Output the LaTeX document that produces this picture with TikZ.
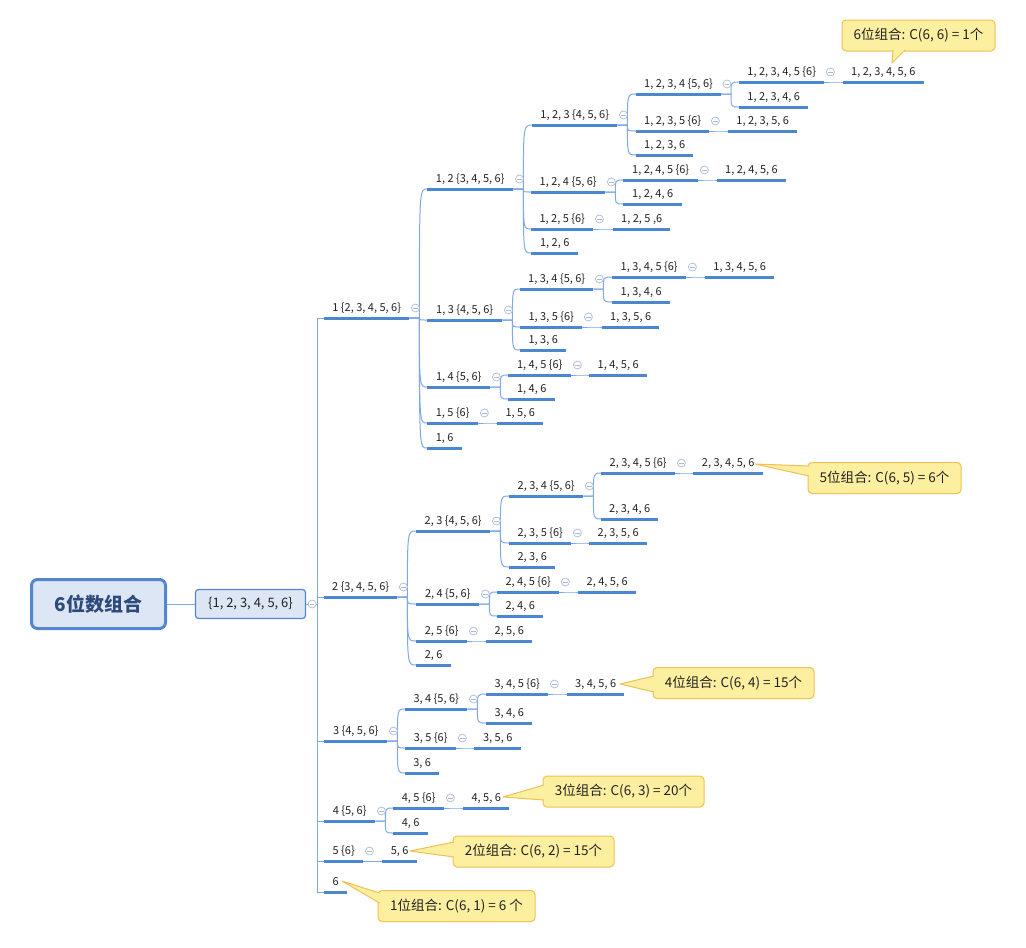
\documentclass[tikz,border=0pt]{standalone}
\usepackage{fontspec}
\setmainfont{Noto Sans CJK SC}
\usepackage{xcolor}
\usepackage{tikz}
\definecolor{lineblue}{RGB}{74, 134, 210}
\definecolor{branchblue}{RGB}{128, 168, 228}
\definecolor{foldgray}{RGB}{172, 186, 214}
\definecolor{rootfill}{RGB}{220, 230, 244}
\definecolor{rootline}{RGB}{84, 134, 205}
\definecolor{roottext}{RGB}{44, 74, 124}
\definecolor{textdark}{RGB}{34, 34, 34}
\definecolor{callfill}{RGB}{252, 239, 160}
\definecolor{callline}{RGB}{240, 192, 82}

\begin{document}
\begin{tikzpicture}[x=1pt, y=-1pt,
    rootbox/.style={
      rectangle, rounded corners=6pt, draw=rootline, fill=rootfill, line width=3pt,
      minimum width=134pt, minimum height=49pt, inner sep=0pt,
      font=\fontsize{19}{22}\selectfont\bfseries, text=roottext
    },
    setbox/.style={
      rectangle, rounded corners=3pt, draw=rootline, fill=rootfill, line width=1.2pt,
      minimum width=110pt, minimum height=29pt, inner sep=0pt,
      font=\fontsize{13}{15}\selectfont, text=textdark
    },
    topic/.style={
      anchor=south west, inner xsep=8pt, inner ysep=6.5pt, text depth=0pt,
      font=\fontsize{11}{13}\selectfont, text=textdark,
      append after command={(\tikzlastnode.south west) edge[uline] (\tikzlastnode.south east)}
    },
    uline/.style={draw=lineblue, line width=3pt},
    branch/.style={draw=branchblue, line width=1pt},
    fold/.style={
      circle, draw=foldgray, fill=white, line width=0.7pt, minimum size=8pt, inner sep=0pt,
      path picture={\draw[foldgray, line width=0.7pt]
        ([xshift=-2.2pt]path picture bounding box.center) -- ([xshift=2.2pt]path picture bounding box.center);}
    },
    callout/.style={
      rectangle, rounded corners=4pt, draw=callline, fill=callfill, line width=1pt,
      minimum height=31pt, inner sep=0pt,
      font=\fontsize{13.5}{16}\selectfont, text=textdark
    },
    pointer/.style={draw=callline, fill=callfill, line width=1pt, line join=round}
]
  \useasboundingbox (0,0) rectangle (1026,948);

  \node[rootbox] (root) at (98.5,604) {6位数组合};
  \node[setbox]  (set)  at (250.5,604) {\{1, 2, 3, 4, 5, 6\}};
  \draw[branch] (root) -- (set);

  % first level
  \node[topic, minimum width=85pt] (n1) at (324,318) {1 \{2, 3, 4, 5, 6\}};
  \node[topic, minimum width=73pt] (n2) at (324,597) {2 \{3, 4, 5, 6\}};
  \node[topic, minimum width=63pt] (n3) at (324,741) {3 \{4, 5, 6\}};
  \node[topic, minimum width=51pt] (n4) at (324,821) {4 \{5, 6\}};
  \node[topic, minimum width=39pt] (n5) at (324,861) {5 \{6\}};
  \node[topic, minimum width=23pt] (n6) at (324,892) {6};

  % 1 ...
  \node[topic, minimum width=86pt] (n12) at (427,189) {1, 2 \{3, 4, 5, 6\}};
  \node[topic, minimum width=75pt] (n13) at (427,320) {1, 3 \{4, 5, 6\}};
  \node[topic, minimum width=63pt] (n14) at (427,387) {1, 4 \{5, 6\}};
  \node[topic, minimum width=51pt] (n15) at (427,423) {1, 5 \{6\}};
  \node[topic, minimum width=35pt] (n16) at (427,448) {1, 6};

  \node[topic, minimum width=85pt] (n123) at (532,125) {1, 2, 3 \{4, 5, 6\}};
  \node[topic, minimum width=74pt] (n124) at (531,192) {1, 2, 4 \{5, 6\}};
  \node[topic, minimum width=62pt] (n125) at (531,229) {1, 2, 5 \{6\}};
  \node[topic, minimum width=47pt] (n126) at (531,253) {1, 2, 6};

  \node[topic, minimum width=84pt] (n1234) at (636,94) {1, 2, 3, 4 \{5, 6\}};
  \node[topic, minimum width=73pt] (n1235) at (636,131) {1, 2, 3, 5 \{6\}};
  \node[topic, minimum width=57pt] (n1236) at (636,155) {1, 2, 3, 6};
  \node[topic, minimum width=85pt] (n12345) at (739,82) {1, 2, 3, 4, 5 \{6\}};
  \node[topic, minimum width=69pt] (n12346) at (739,107) {1, 2, 3, 4, 6};
  \node[topic, minimum width=80pt] (n123456) at (843,82) {1, 2, 3, 4, 5, 6};
  \node[topic, minimum width=69pt] (n12356) at (728,131) {1, 2, 3, 5, 6};

  \node[topic, minimum width=75pt] (n1245) at (623,180) {1, 2, 4, 5 \{6\}};
  \node[topic, minimum width=59pt] (n1246) at (623,204) {1, 2, 4, 6};
  \node[topic, minimum width=68pt] (n12456) at (717,180) {1, 2, 4, 5, 6};
  \node[topic, minimum width=57pt] (n1256) at (613,229) {1, 2, 5 ,6};

  \node[topic, minimum width=73pt] (n134) at (520,289) {1, 3, 4 \{5, 6\}};
  \node[topic, minimum width=62pt] (n135) at (520,327) {1, 3, 5 \{6\}};
  \node[topic, minimum width=46pt] (n136) at (520,350) {1, 3, 6};
  \node[topic, minimum width=74pt] (n1345) at (612,277) {1, 3, 4, 5 \{6\}};
  \node[topic, minimum width=58pt] (n1346) at (612,302) {1, 3, 4, 6};
  \node[topic, minimum width=69pt] (n13456) at (705,277) {1, 3, 4, 5, 6};
  \node[topic, minimum width=56pt] (n1356) at (602,327) {1, 3, 5, 6};

  \node[topic, minimum width=63pt] (n145) at (508,375) {1, 4, 5 \{6\}};
  \node[topic, minimum width=47pt] (n146) at (508,399) {1, 4, 6};
  \node[topic, minimum width=58pt] (n1456) at (589,375) {1, 4, 5, 6};
  \node[topic, minimum width=46pt] (n156) at (497,423) {1, 5, 6};

  % 2 ...
  \node[topic, minimum width=74pt] (n23) at (416,531) {2, 3 \{4, 5, 6\}};
  \node[topic, minimum width=63pt] (n24) at (416,604) {2, 4 \{5, 6\}};
  \node[topic, minimum width=51pt] (n25) at (416,641) {2, 5 \{6\}};
  \node[topic, minimum width=35pt] (n26) at (416,665) {2, 6};
  \node[topic, minimum width=74pt] (n234) at (509,496) {2, 3, 4 \{5, 6\}};
  \node[topic, minimum width=62pt] (n235) at (509,543) {2, 3, 5 \{6\}};
  \node[topic, minimum width=46pt] (n236) at (509,567) {2, 3, 6};
  \node[topic, minimum width=74pt] (n2345) at (601,473) {2, 3, 4, 5 \{6\}};
  \node[topic, minimum width=57pt] (n2346) at (601,519) {2, 3, 4, 6};
  \node[topic, minimum width=70pt] (n23456) at (693,473) {2, 3, 4, 5, 6};
  \node[topic, minimum width=58pt] (n2356) at (589,543) {2, 3, 5, 6};
  \node[topic, minimum width=62pt] (n245) at (497,592) {2, 4, 5 \{6\}};
  \node[topic, minimum width=46pt] (n246) at (497,616) {2, 4, 6};
  \node[topic, minimum width=58pt] (n2456) at (578,592) {2, 4, 5, 6};
  \node[topic, minimum width=46pt] (n256) at (486,641) {2, 5, 6};

  % 3 ...
  \node[topic, minimum width=62pt] (n34) at (405,709) {3, 4 \{5, 6\}};
  \node[topic, minimum width=51pt] (n35) at (405,748) {3, 5 \{6\}};
  \node[topic, minimum width=34pt] (n36) at (405,773) {3, 6};
  \node[topic, minimum width=62pt] (n345) at (486,694) {3, 4, 5 \{6\}};
  \node[topic, minimum width=46pt] (n346) at (486,723) {3, 4, 6};
  \node[topic, minimum width=57pt] (n3456) at (567,694) {3, 4, 5, 6};
  \node[topic, minimum width=47pt] (n356) at (474,748) {3, 5, 6};

  % 4, 5 ...
  \node[topic, minimum width=51pt] (n45) at (393,808) {4, 5 \{6\}};
  \node[topic, minimum width=35pt] (n46) at (393,833) {4, 6};
  \node[topic, minimum width=46pt] (n456) at (463,808) {4, 5, 6};
  \node[topic, minimum width=35pt] (n56) at (382,861) {5, 6};

  % Trunk
  \foreach \c in {n1, n2, n3, n4, n5, n6}
    \draw[branch] (set.east) -- ++(11,0) |- (\c.south west);
  \node[fold] (fset) at ([xshift=6pt]set.east) {};

  % Branches
  \foreach \p/\c in {n1/n12, n1/n13, n1/n14, n1/n15, n1/n16,
      n12/n123, n12/n124, n12/n125, n12/n126,
      n123/n1234, n123/n1235, n123/n1236,
      n1234/n12345, n1234/n12346, n12345/n123456, n1235/n12356,
      n124/n1245, n124/n1246, n1245/n12456, n125/n1256,
      n13/n134, n13/n135, n13/n136,
      n134/n1345, n134/n1346, n1345/n13456, n135/n1356,
      n14/n145, n14/n146, n145/n1456, n15/n156,
      n2/n23, n2/n24, n2/n25, n2/n26,
      n23/n234, n23/n235, n23/n236,
      n234/n2345, n234/n2346, n2345/n23456, n235/n2356,
      n24/n245, n24/n246, n245/n2456, n25/n256,
      n3/n34, n3/n35, n3/n36,
      n34/n345, n34/n346, n345/n3456, n35/n356,
      n4/n45, n4/n46, n45/n456, n5/n56} {
    \path ([xshift=10pt]\p.south east) coordinate (bp);
    \draw[branch] (\p.south east) -- (bp) .. controls (bp |- \c.south west) .. (\c.south west);
  }

  % Fold marks
  \foreach \p in {n1, n12, n123, n1234, n12345, n1235, n124, n1245, n125,
      n13, n134, n1345, n135, n14, n145, n15,
      n2, n23, n234, n2345, n235, n24, n245, n25,
      n3, n34, n345, n35, n4, n45, n5}
    \node[fold] (f\p) at ([xshift=6pt, yshift=10pt]\p.south east) {};

  % Callouts
  \node[callout, minimum width=153pt] (c6) at (918.5,35.5) {6位组合: C(6, 6) = 1个};
  \node[callout, minimum width=153pt] (c5) at (884.5,478) {5位组合: C(6, 5) = 6个};
  \node[callout, minimum width=161pt] (c4) at (733.5,683) {4位组合: C(6, 4) = 15个};
  \node[callout, minimum width=161pt] (c3) at (623.5,791.5) {3位组合: C(6, 3) = 20个};
  \node[callout, minimum width=161pt] (c2) at (533.5,851.5) {2位组合: C(6, 2) = 15个};
  \node[callout, minimum width=157pt] (c1) at (456.5,906) {1位组合: C(6, 1) = 6 个};

  \coordinate (t6) at (892,63);
  \coordinate (t5) at (755,464);
  \coordinate (t4) at (620,684);
  \coordinate (t3) at (503,797);
  \coordinate (t2) at (410,851);
  \coordinate (t1) at (342,881);

  \draw[pointer] ([xshift=-25.5pt, yshift=1.5pt]c6.south) -- (t6) -- ([xshift=-13.5pt, yshift=1.5pt]c6.south);
  \draw[pointer] ([xshift=1.5pt, yshift=12pt]c5.west) -- (t5) -- ([xshift=1.5pt, yshift=2pt]c5.west);
  \draw[pointer] ([xshift=1.5pt, yshift=7pt]c4.west) -- (t4) -- ([xshift=1.5pt, yshift=-9pt]c4.west);
  \draw[pointer] ([xshift=1.5pt, yshift=6.5pt]c3.west) -- (t3) -- ([xshift=1.5pt, yshift=-8.5pt]c3.west);
  \draw[pointer] ([xshift=1.5pt, yshift=9.5pt]c2.west) -- (t2) -- ([xshift=1.5pt, yshift=-5.5pt]c2.west);
  \draw[pointer] ([xshift=2pt, yshift=13pt]c1.west) -- (t1) -- ([xshift=2pt, yshift=3pt]c1.west);
\end{tikzpicture}
\end{document}
